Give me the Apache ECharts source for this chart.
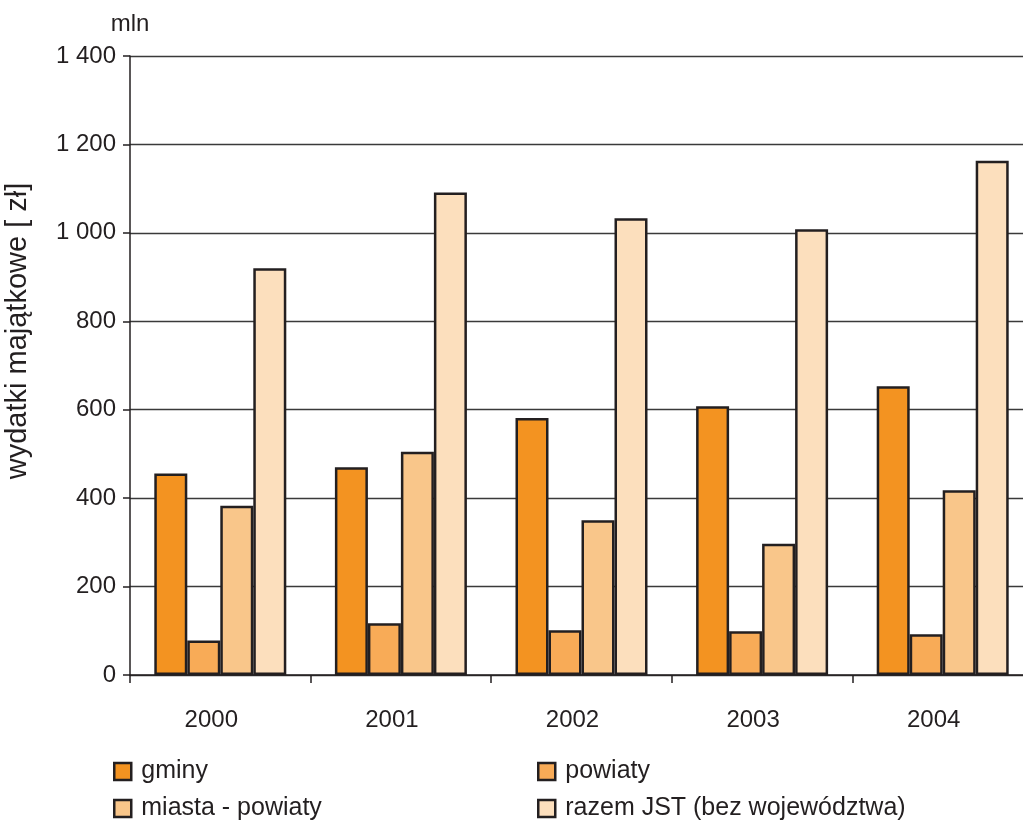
<!DOCTYPE html>
<html><head><meta charset="utf-8">
<script src="https://cdn.jsdelivr.net/npm/echarts@6/dist/echarts.min.js"></script>
<style>html,body{margin:0;padding:0;background:#fff;overflow:hidden;width:1023px;height:824px}#c{width:1033px;height:824px}</style>
</head><body><div id="c"></div>
<script>
var categories = ['2000', '2001', '2002', '2003', '2004'];
var gminy = [456, 470, 581, 608, 653];
var powiaty = [78, 117, 101, 99, 92];
var miastaPowiaty = [383, 505, 350, 297, 418];
var razemJST = [920, 1091, 1033, 1008, 1163];
var seriesNames = ['gminy', 'powiaty', 'miasta - powiaty', 'razem JST (bez województwa)'];
var yTicks = [0, 200, 400, 600, 800, 1000, 1200, 1400];

var FONT = 'Liberation Sans, Arial, sans-serif';
var INK = '#231f20';
var colors = ['#f39321', '#f8ab57', '#f9c68a', '#fcdfbd'];

var chart = echarts.init(document.getElementById('c'), null, {renderer: 'canvas'});
function mk(name, data, color) {
  return {
    name: name, type: 'bar', data: data, barWidth: 33, barGap: '0%',
    itemStyle: {color: color, borderColor: INK, borderWidth: 2.5},
    emphasis: {disabled: true}
  };
}
function lg(name, left, top) {
  return {data: [name], left: left, top: top, itemWidth: 17, itemHeight: 17, icon: 'rect',
    itemStyle: {borderColor: INK, borderWidth: 2.5}, selectedMode: false,
    textStyle: {color: INK, fontSize: 25, fontFamily: FONT, lineHeight: 25, padding: [0, 0, 0, 5]}};
}
chart.setOption({
  animation: false,
  textStyle: {fontFamily: FONT},
  grid: {left: 130, top: 56, bottom: 149, right: 0},
  xAxis: {
    type: 'category', data: categories,
    axisLine: {lineStyle: {color: INK, width: 1.5}},
    axisTick: {show: true, length: 8, lineStyle: {color: INK, width: 1.5}},
    axisLabel: {color: INK, fontSize: 24, fontFamily: FONT, margin: 33, padding: [0, 18, 0, 0]}
  },
  yAxis: {
    type: 'value', min: 0, max: 1400, interval: 200,
    name: 'mln', nameLocation: 'end', nameGap: 20,
    nameTextStyle: {color: INK, fontSize: 24, fontFamily: FONT, align: 'center'},
    axisLine: {show: true, lineStyle: {color: INK, width: 1.5}},
    axisTick: {show: true, length: 7, lineStyle: {color: INK, width: 1.5}},
    axisLabel: {color: INK, fontSize: 24, fontFamily: FONT, margin: 14,
      formatter: function (v) { return String(v).replace(/\B(?=(\d{3})+(?!\d))/g, ' '); }},
    splitLine: {show: true, lineStyle: {color: '#3a3a3a', width: 1.4}}
  },
  legend: [
    lg(seriesNames[0], 108, 754),
    lg(seriesNames[1], 532, 754),
    lg(seriesNames[2], 108, 791),
    lg(seriesNames[3], 532, 791)
  ],
  graphic: [{
    type: 'text', x: 18, y: 331, rotation: Math.PI / 2,
    style: {text: 'wydatki majątkowe [ zł]', fill: INK, font: '29px ' + FONT,
      textAlign: 'center', textVerticalAlign: 'middle'}
  }],
  series: [
    mk(seriesNames[0], gminy, colors[0]),
    mk(seriesNames[1], powiaty, colors[1]),
    mk(seriesNames[2], miastaPowiaty, colors[2]),
    mk(seriesNames[3], razemJST, colors[3])
  ]
});
</script></body></html>
